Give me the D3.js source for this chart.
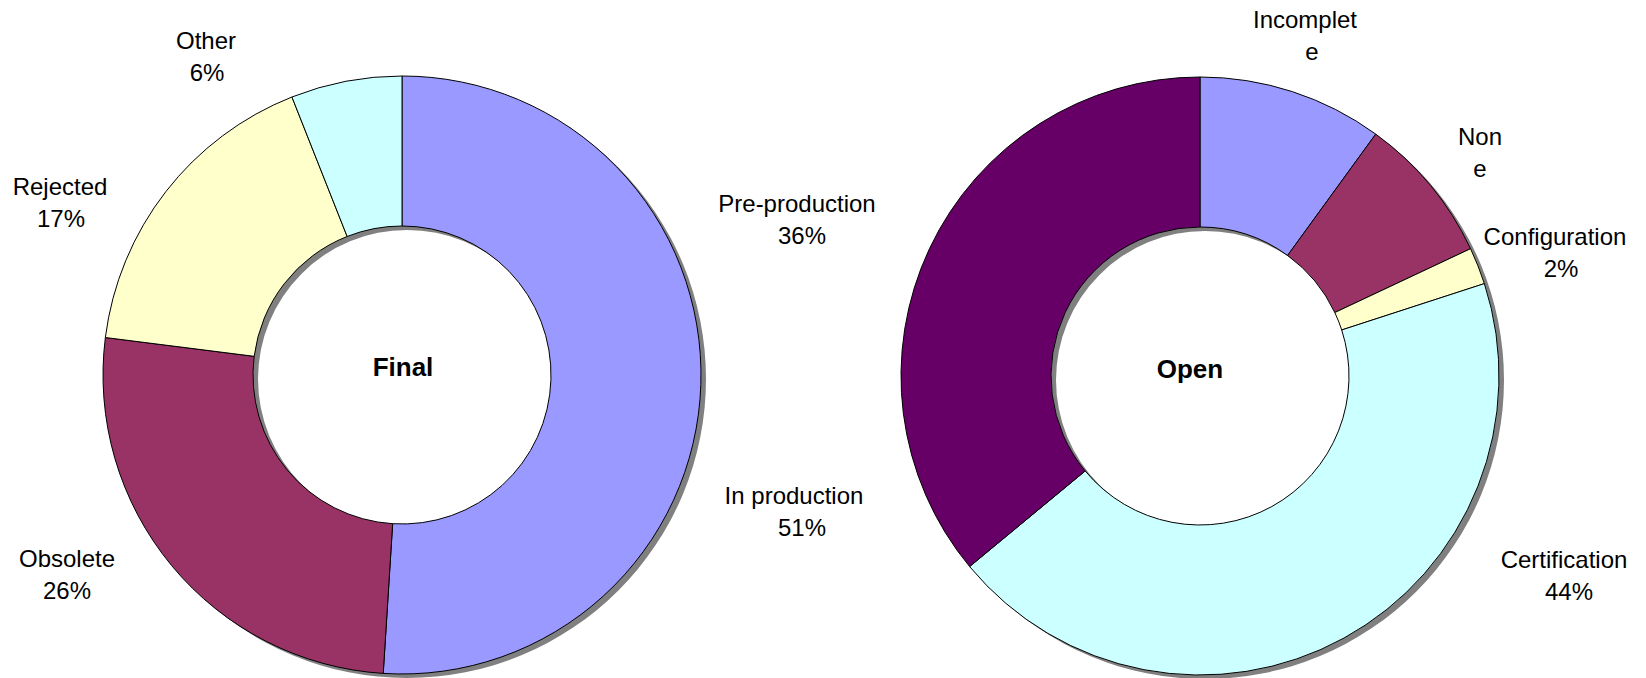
<!DOCTYPE html>
<html>
<head>
<meta charset="utf-8">
<script src="https://cdn.jsdelivr.net/npm/d3@7"></script>
<style>
  html, body { margin: 0; padding: 0; background: #ffffff; }
  svg { display: block; }
  text { font-family: "Liberation Sans", Arial, sans-serif; fill: #000; }
</style>
</head>
<body>
<svg id="chart" width="1646" height="678"></svg>
<script>
// ---- Data: "Final" doughnut ----
const finalCategories = ["In production", "Obsolete", "Rejected", "Other"];
const finalValues = [51, 26, 17, 6];
const finalColors = ["#9999FF", "#993366", "#FFFFCC", "#CCFFFF"];
// Extra data label shown beside the "Final" ring
const finalExtraNames = ["Pre-production"];
const finalExtraPercents = [36];

// ---- Data: "Open" doughnut ----
const openCategories = ["Incomplete", "None", "Configuration", "Certification", "Other"];
const openValues = [10, 8, 2, 44, 36];
const openColors = ["#9999FF", "#993366", "#FFFFCC", "#CCFFFF", "#660066"];
// Label text as it is printed (wrapped), null = no label
const openLabelLines = [["Incomplet", "e"], ["Non", "e"], ["Configuration", "2%"], ["Certification", "44%"], null];

// ---- Layout ----
const outerR = 299, innerR = 149;
const shadowDx = 5, shadowDy = 4;
const lineGap = 31.5;
const charts = [
  {
    title: "Final", cx: 402, cy: 375, titleX: 403, titleY: 376,
    categories: finalCategories, values: finalValues, colors: finalColors,
    lines: finalCategories.map((c, i) => [c, finalValues[i] + "%"]),
    // label anchor per slice: first-line centre x, baseline y, x shift of second line
    labelPos: [[794, 504, 8], [67, 567, 0], [60, 195, 1], [206, 49, 1]],
    extra: finalExtraNames.map((n, i) => [n, finalExtraPercents[i] + "%"]),
    extraPos: [[797, 212, 5]]
  },
  {
    title: "Open", cx: 1200, cy: 376, titleX: 1190, titleY: 378,
    categories: openCategories, values: openValues, colors: openColors,
    lines: openLabelLines,
    labelPos: [[1305, 28, 7], [1480, 145, 0], [1555, 245, 6], [1564, 568, 5], null],
    extra: [], extraPos: []
  }
];

const svg = d3.select("#chart");
const pie = d3.pie().sort(null).value(d => d).startAngle(0).endAngle(2 * Math.PI);
const arc = d3.arc().innerRadius(innerR).outerRadius(outerR);
const ring = d3.arc().innerRadius(innerR).outerRadius(outerR).startAngle(0).endAngle(2 * Math.PI);

charts.forEach(ch => {
  const g = svg.append("g").attr("transform", `translate(${ch.cx},${ch.cy})`);

  // drop shadow of the ring
  g.append("path")
    .attr("d", ring())
    .attr("transform", `translate(${shadowDx},${shadowDy})`)
    .attr("fill", "#808080");

  // slices
  g.selectAll("path.slice")
    .data(pie(ch.values))
    .join("path")
    .attr("class", "slice")
    .attr("d", arc)
    .attr("fill", (d, i) => ch.colors[i])
    .attr("stroke", "#000")
    .attr("stroke-width", 1)
    .attr("stroke-linejoin", "round");

  // centre title
  svg.append("text")
    .attr("x", ch.titleX).attr("y", ch.titleY)
    .attr("text-anchor", "middle")
    .attr("font-size", 26).attr("font-weight", "bold")
    .text(ch.title);

  // data labels
  const drawLabel = (lines, pos) => {
    if (!lines || !pos) return;
    const t = svg.append("text").attr("text-anchor", "middle").attr("font-size", 24);
    lines.forEach((ln, k) => {
      t.append("tspan")
        .attr("x", pos[0] + (k > 0 ? pos[2] : 0))
        .attr("y", pos[1] + k * lineGap)
        .text(ln);
    });
  };
  ch.lines.forEach((lines, i) => drawLabel(lines, ch.labelPos[i]));
  ch.extra.forEach((lines, i) => drawLabel(lines, ch.extraPos[i]));
});
</script>
</body>
</html>
